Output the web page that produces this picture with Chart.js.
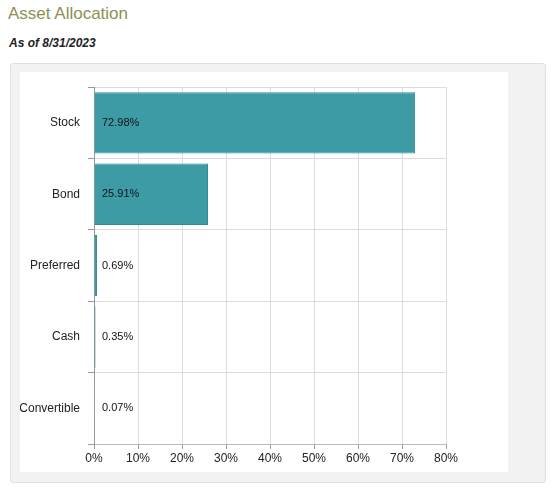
<!DOCTYPE html>
<html>
<head>
<meta charset="utf-8">
<script src="https://cdn.jsdelivr.net/npm/chart.js@4"></script>
<style>
  body { margin: 0; width: 552px; height: 488px; background: #fff; font-family: "Liberation Sans", Arial, sans-serif; position: relative; }
  #title { position: absolute; left: 8px; top: 4px; font-size: 17px; color: #8f8f55; }
  #asof { position: absolute; left: 9px; top: 36px; font-size: 12px; font-weight: bold; font-style: italic; color: #222; }
  #panel { position: absolute; left: 10px; top: 63px; width: 534px; height: 418px; background: #f2f2f2; border: 1px solid #e0e0e0; border-radius: 3px; }
  #box { position: absolute; left: 20px; top: 72px; width: 488px; height: 400px; background: #fff; }
</style>
</head>
<body>
<div id="title">Asset Allocation</div>
<div id="asof">As of 8/31/2023</div>
<div id="panel"></div>
<div id="box"><canvas id="c" width="488" height="400"></canvas></div>
<script>
  // Datos
  var categorias = ['Stock', 'Bond', 'Preferred', 'Cash', 'Convertible'];
  var valores = [72.98, 25.91, 0.69, 0.35, 0.07];
  var ticksX = [0, 10, 20, 30, 40, 50, 60, 70, 80];

  // ── Degradado vertical por barra (se aplica ya con la geometría lista) ──
  var degradado = {
    id: 'degradado',
    beforeDatasetsDraw: function (chart) {
      var c = chart.ctx;
      chart.getDatasetMeta(0).data.forEach(function (el) {
        var t = el.y - el.height / 2, b = el.y + el.height / 2;
        var g = c.createLinearGradient(0, t, 0, b);
        g.addColorStop(0, '#3d9ba6');
        g.addColorStop(0.35, '#7cc4cc');
        g.addColorStop(1, '#3a98a3');
        el.options.backgroundColor = g;
      });
    }
  };

  // ── Etiquetas de valor dentro del área ──
  var etiquetas = {
    id: 'etiquetas',
    afterDatasetsDraw: function (chart) {
      var c = chart.ctx, meta = chart.getDatasetMeta(0);
      c.save();
      c.font = '11px "Liberation Sans", Arial, sans-serif';
      c.fillStyle = '#111';
      c.textBaseline = 'middle';
      meta.data.forEach(function (bar, i) {
        c.fillText(valores[i].toFixed(2) + '%', chart.chartArea.left + 8, bar.y);
      });
      c.restore();
    }
  };

  new Chart(document.getElementById('c'), {
    type: 'bar',
    data: {
      labels: categorias,
      datasets: [{
        data: valores,
        backgroundColor: '#4aa7b1',
        borderColor: '#2f8a95',
        borderWidth: 1,
        barPercentage: 0.86,
        categoryPercentage: 1
      }]
    },
    plugins: [degradado, etiquetas],
    options: {
      indexAxis: 'y',
      responsive: false,
      animation: false,
      layout: { padding: { top: -2, right: 62, left: 0, bottom: 0 } },
      plugins: { legend: { display: false }, tooltip: { enabled: false } },
      scales: {
        x: {
          min: 0, max: 80,
          afterBuildTicks: function (s) { s.ticks = ticksX.map(function (v) { return { value: v }; }); },
          afterFit: function (s) { s.height = 28; s.paddingRight = 0; },
          grid: { color: '#dcdcdc', tickLength: 5, tickColor: '#999' },
          border: { color: '#bbb' },
          ticks: { color: '#222', font: { size: 12, family: '"Liberation Sans", Arial' }, padding: 2, callback: function (v) { return v + '%'; } }
        },
        y: {
          afterFit: function (s) { s.width = 74; },
          grid: { color: '#dcdcdc', tickLength: 6, tickColor: '#999', offset: true },
          border: { color: '#999' },
          ticks: { color: '#222', font: { size: 12, family: '"Liberation Sans", Arial' }, padding: 8 }
        }
      }
    }
  });
</script>
</body>
</html>
